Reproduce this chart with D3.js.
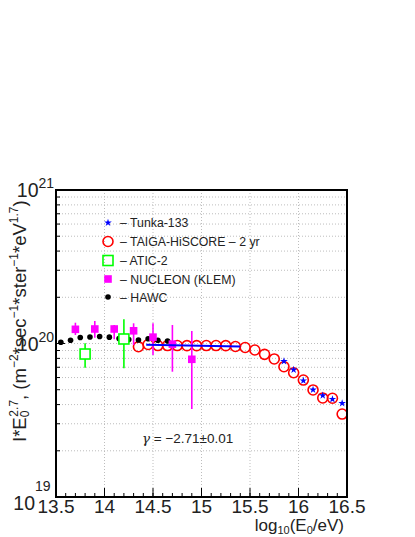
<!DOCTYPE html>
<html>
<head>
<meta charset="utf-8">
<script src="https://cdn.jsdelivr.net/npm/d3@7"></script>
<style>
  body { margin: 0; background: #fff; }
  text { font-family: "Liberation Sans", Arial, sans-serif; fill: #222; }
</style>
</head>
<body>
<div id="plot"></div>
<script>
var w = 415, h = 537;

// log10(E0/eV) and I*E^2.7 in units of 1e20
var hawcE   = [13.55,13.65,13.75,13.85,13.95,14.05,14.15,14.25,14.35,14.45,14.55,14.65];
var hawcV   = [1.018,1.049,1.094,1.102,1.11,1.10,1.078,1.062,1.054,1.074,1.049,1.038];

var nucE    = [13.7,13.9,14.1,14.3,14.5,14.7,14.9];
var nucV    = [1.237,1.243,1.243,1.21,1.10,0.99,0.789];
var nucHi   = [1.366,1.40,1.32,1.354,1.354,1.32,1.206];
var nucLo   = [1.136,1.09,1.065,0.978,0.842,0.655,0.374];

var aticE   = [13.8,14.2];
var aticV   = [0.854,1.07];
var aticHi  = [1.003,1.44];
var aticLo  = [0.695,0.69];

var taigaE  = [14.35,14.45,14.55,14.65,14.75,14.85,14.95,15.05,15.15,15.25,15.35,15.45,15.55,15.65,15.75,15.85,15.95,16.05,16.15,16.25,16.35,16.45,16.55];
var taigaV  = [0.953,0.985,0.970,0.970,0.970,0.968,0.968,0.970,0.970,0.968,0.956,0.942,0.907,0.850,0.793,0.706,0.645,0.578,0.498,0.442,0.440,0.347,0.269];

var tunkaE  = [15.85,15.95,16.05,16.15,16.25,16.35,16.45];
var tunkaV  = [0.766,0.675,0.573,0.500,0.458,0.434,0.408];

var fitE    = [14.43,15.40];
var fitV    = [0.981,0.956];

var xTicks  = [13.5,14,14.5,15,15.5,16,16.5];
var yDecades = [1e19,1e20,1e21];

var legendItems = ['\u2013 Tunka-133','\u2013 TAIGA-HiSCORE \u2013 2 yr','\u2013 ATIC-2','\u2013 NUCLEON (KLEM)','\u2013 HAWC'];

var svg = d3.select('#plot').append('svg')
    .attr('width', w)
    .attr('height', h);

var x = d3.scaleLinear().domain([13.5,16.5]).range([56,347]);
var y = d3.scaleLog().domain([1e19,1e21]).range([497,190]);
function yv(v){ return y(v*1e20); }

svg.append('clipPath').attr('id','frameClip')
  .append('rect').attr('x',56).attr('y',190).attr('width',291).attr('height',307);

// grid
var gridY = [];
[1e19,1e20].forEach(function(d){ for (var k=1;k<10;k++) gridY.push(d*k); });
svg.append('g').selectAll('line').data(gridY.slice(1)).enter().append('line')
    .attr('x1',56).attr('x2',347)
    .attr('y1',function(d){return y(d);}).attr('y2',function(d){return y(d);})
    .style('stroke','#bdbdbd').style('stroke-dasharray','1,2').style('stroke-width',1);
svg.append('g').selectAll('line').data(xTicks.slice(1,-1)).enter().append('line')
    .attr('y1',190).attr('y2',497)
    .attr('x1',function(d){return x(d);}).attr('x2',function(d){return x(d);})
    .style('stroke','#bdbdbd').style('stroke-dasharray','1,2').style('stroke-width',1);

// ticks inside the frame
var minorX = d3.range(13.6,16.45,0.1);
svg.append('g').selectAll('line').data(minorX).enter().append('line')
    .attr('x1',function(d){return x(d);}).attr('x2',function(d){return x(d);})
    .attr('y1',497).attr('y2',493)
    .style('stroke','#000');
svg.append('g').selectAll('line').data(xTicks).enter().append('line')
    .attr('x1',function(d){return x(d);}).attr('x2',function(d){return x(d);})
    .attr('y1',497).attr('y2',488)
    .style('stroke','#000');
svg.append('g').selectAll('line').data(gridY.slice(1)).enter().append('line')
    .attr('x1',56).attr('x2',function(d){return yDecades.indexOf(d)>=0 ? 65 : 60;})
    .attr('y1',function(d){return y(d);}).attr('y2',function(d){return y(d);})
    .style('stroke','#000');

var data = svg.append('g').attr('clip-path','url(#frameClip)');

// TAIGA-HiSCORE
data.append('g').selectAll('circle').data(taigaE).enter().append('circle')
    .attr('cx',function(d){return x(d);})
    .attr('cy',function(d,i){return yv(taigaV[i]);})
    .attr('r',5)
    .style('fill','none').style('stroke','#ff0000').style('stroke-width',1.6);

// HAWC
data.append('g').selectAll('circle').data(hawcE).enter().append('circle')
    .attr('cx',function(d){return x(d);})
    .attr('cy',function(d,i){return yv(hawcV[i]);})
    .attr('r',2.8)
    .style('fill','#000');

// ATIC-2
var atic = data.append('g').selectAll('g').data(aticE).enter().append('g');
atic.append('line')
    .attr('x1',function(d){return x(d);}).attr('x2',function(d){return x(d);})
    .attr('y1',function(d,i){return yv(aticHi[i]);}).attr('y2',function(d,i){return yv(aticLo[i]);})
    .style('stroke','#00ff00').style('stroke-width',1.6);
atic.append('rect')
    .attr('x',function(d){return x(d)-5;})
    .attr('y',function(d,i){return yv(aticV[i])-5;})
    .attr('width',10).attr('height',10)
    .style('fill','#fff').style('stroke','#00ff00').style('stroke-width',1.6);

// NUCLEON (KLEM)
var nuc = data.append('g').selectAll('g').data(nucE).enter().append('g');
nuc.append('line')
    .attr('x1',function(d){return x(d);}).attr('x2',function(d){return x(d);})
    .attr('y1',function(d,i){return yv(nucHi[i]);}).attr('y2',function(d,i){return yv(nucLo[i]);})
    .style('stroke','#ff00ff').style('stroke-width',1.6);
nuc.append('rect')
    .attr('x',function(d){return x(d)-3.8;})
    .attr('y',function(d,i){return yv(nucV[i])-3.8;})
    .attr('width',7.6).attr('height',7.6)
    .style('fill','#ff00ff');

// fit line
data.append('line')
    .attr('x1',x(fitE[0])).attr('x2',x(fitE[1]))
    .attr('y1',yv(fitV[0])).attr('y2',yv(fitV[1]))
    .style('stroke','#0000ff').style('stroke-width',2);

// Tunka-133
var star = d3.symbol().type(d3.symbolStar).size(18);
data.append('g').selectAll('path').data(tunkaE).enter().append('path')
    .attr('d',star)
    .attr('transform',function(d,i){return 'translate('+x(d)+','+yv(tunkaV[i])+')';})
    .style('fill','#0000ff');

// frame
svg.append('rect').attr('x',56).attr('y',190).attr('width',291).attr('height',307)
    .style('fill','none').style('stroke','#000').style('stroke-width',2);

// x tick labels
svg.append('g').selectAll('text').data(xTicks).enter().append('text')
    .attr('x',function(d){return x(d);}).attr('y',513)
    .attr('text-anchor','middle')
    .style('font-size','19px')
    .text(function(d){return d;});

// y tick labels: base and exponent as separate texts
function supX(d){ return d===1e19 ? 35 : 38.5; }
function baseY(d){ return y(d) + (d===1e19 ? 13 : 7); }
var yl = svg.append('g');
yl.selectAll('text.base').data(yDecades).enter().append('text')
    .attr('class','base')
    .attr('x',supX).attr('y',baseY)
    .attr('text-anchor','end')
    .style('font-size','19.5px')
    .text('10');
yl.selectAll('text.exp').data(yDecades).enter().append('text')
    .attr('class','exp')
    .attr('x',supX).attr('y',function(d){return baseY(d) - (d===1e19 ? 19 : 9);})
    .style('font-size','14px')
    .text(function(d){return Math.round(Math.log10(d));});

// x title
var xt = svg.append('text').attr('x',344).attr('y',531)
    .attr('text-anchor','end').style('font-size','17px');
xt.append('tspan').text('log');
xt.append('tspan').attr('dy',3).style('font-size','11px').text('10');
xt.append('tspan').attr('dy',-3).text('(E');
xt.append('tspan').attr('dy',3).style('font-size','11px').text('0');
xt.append('tspan').attr('dy',-3).text('/eV)');

// y title
var ytl = svg.append('text')
    .attr('transform','translate(26,442) rotate(-90)')
    .style('font-size','18.5px');
var parts = [['I*E',0],['0',1],['2.7',2],[', (m',0],['\u22122',2],['*sec',0],['\u22121',2],['*ster',0],['\u22121',2],['*eV',0],['1.7',2],[')',0]];
var prev = 0;
parts.forEach(function(p){
  var off = p[1]===1 ? 3 : (p[1]===2 ? -8 : 0);
  var t = ytl.append('tspan').attr('dy', off - prev).text(p[0]);
  if (p[1]) t.style('font-size','12px');
  if (p[0]==='2.7') t.attr('dx',-6);
  prev = off;
});

// legend
var legY = [222.7,241.5,260.5,279,297];
var leg = svg.append('g');
leg.selectAll('text').data(legendItems).enter().append('text')
    .attr('x',120).attr('y',function(d,i){return legY[i]+4.5;})
    .style('font-size','12.3px')
    .text(function(d){return d;});
leg.append('path').attr('d',star)
    .attr('transform','translate(108,'+legY[0]+')').style('fill','#0000ff');
leg.append('circle').attr('cx',108).attr('cy',legY[1]).attr('r',5)
    .style('fill','none').style('stroke','#ff0000').style('stroke-width',1.6);
leg.append('rect').attr('x',103).attr('y',legY[2]-5).attr('width',10).attr('height',10)
    .style('fill','none').style('stroke','#00ff00').style('stroke-width',1.6);
leg.append('rect').attr('x',104.2).attr('y',legY[3]-3.8).attr('width',7.6).attr('height',7.6)
    .style('fill','#ff00ff');
leg.append('circle').attr('cx',108).attr('cy',legY[4]).attr('r',2.8).style('fill','#000');

// slope label
var g = svg.append('text').attr('x',142).attr('y',443).style('font-size','13.5px');
g.append('tspan').style('font-family','"DejaVu Serif", serif').style('font-style','italic').text('\u03b3');
g.append('tspan').text(' = \u22122.71\u00b10.01');
</script>
</body>
</html>
